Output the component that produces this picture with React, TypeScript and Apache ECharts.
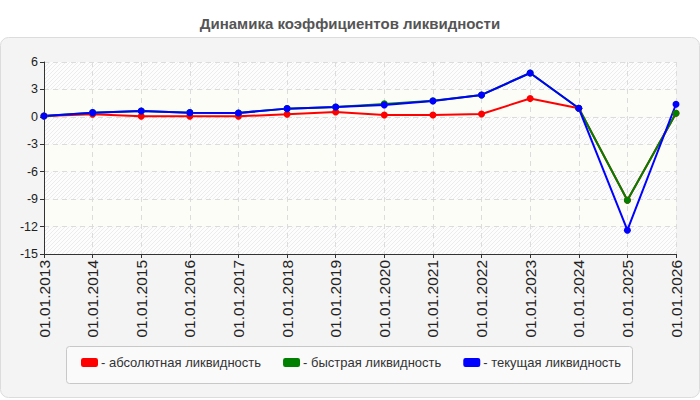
import React, { useEffect, useRef } from "react";
import * as echarts from "echarts";

const categories = [
  "01.01.2013", "01.01.2014", "01.01.2015", "01.01.2016", "01.01.2017",
  "01.01.2018", "01.01.2019", "01.01.2020", "01.01.2021", "01.01.2022",
  "01.01.2023", "01.01.2024", "01.01.2025", "01.01.2026",
];
const absoluteLiquidity = [0.1, 0.28, 0.06, 0.06, 0.06, 0.28, 0.53, 0.2, 0.2, 0.32, 2.0, 0.94, -9.13, 0.39];
const quickLiquidity = [0.1, 0.46, 0.65, 0.46, 0.43, 0.9, 1.08, 1.42, 1.76, 2.4, 4.8, 0.94, -9.13, 0.39];
const currentLiquidity = [0.1, 0.46, 0.65, 0.46, 0.43, 0.9, 1.08, 1.3, 1.74, 2.4, 4.8, 0.94, -12.4, 1.38];
const seriesNames = ["абсолютная ликвидность", "быстрая ликвидность", "текущая ликвидность"];
const seriesColors = ["#ff0000", "#008000", "#0000ff"];

function makeHatch(): any {
  const s = 4;
  const c = document.createElement("canvas");
  c.width = s;
  c.height = s;
  const ctx = c.getContext("2d")!;
  ctx.fillStyle = "#fdfdfd";
  ctx.fillRect(0, 0, s, s);
  ctx.strokeStyle = "#ececec";
  ctx.lineWidth = 1;
  ctx.beginPath();
  ctx.moveTo(0, s);
  ctx.lineTo(s, 0);
  ctx.moveTo(-s / 2, s / 2);
  ctx.lineTo(s / 2, -s / 2);
  ctx.moveTo(s / 2, s * 1.5);
  ctx.lineTo(s * 1.5, s / 2);
  ctx.stroke();
  return { image: c, repeat: "repeat" };
}

export default function App() {
  const ref = useRef<HTMLDivElement>(null);
  useEffect(() => {
    const chart = echarts.init(ref.current!, null, { renderer: "svg" });
    const mk = (name: string, data: number[], color: string) => ({
      name,
      type: "line",
      data,
      symbol: "circle",
      symbolSize: 7,
      lineStyle: { width: 2, color },
      itemStyle: { color },
    });
    const hatch = makeHatch();
    chart.setOption({
      animation: false,
      textStyle: { fontFamily: "Arial, 'Liberation Sans', sans-serif" },
      title: {
        text: "Динамика коэффициентов ликвидности",
        left: "center",
        top: 11,
        textStyle: { fontSize: 15, fontWeight: "bold", color: "#555", fontFamily: "Arial, 'Liberation Sans', sans-serif" },
      },
      graphic: [
        {
          type: "rect",
          shape: { x: 0.5, y: 37.5, width: 699, height: 360, r: 8 },
          style: { fill: "#f4f4f4", stroke: "#dcdcdc", lineWidth: 1 },
          z: -10,
        },
        {
          type: "rect",
          shape: { x: 66.5, y: 346.5, width: 566, height: 37, r: 3 },
          style: { fill: "#fafafa", stroke: "#c8c8c8", lineWidth: 1 },
          z: -5,
        },
      ],
      legend: {
        left: 76,
        top: 351,
        itemWidth: 17,
        itemHeight: 9,
        itemGap: 22,
        icon: "roundRect",
        formatter: (n: string) => "- " + n,
        textStyle: { fontSize: 13, color: "#333", padding: [0, 0, 0, -2] },
        data: seriesNames,
      },
      grid: { left: 44, right: 24, top: 62, bottom: 146 },
      xAxis: {
        type: "category",
        data: categories,
        boundaryGap: false,
        axisLine: { onZero: false, lineStyle: { color: "#333" } },
        axisTick: { alignWithLabel: true, length: 4, lineStyle: { color: "#333" } },
        axisLabel: { rotate: 90, fontSize: 15.5, color: "#222", margin: 6, interval: 0 },
        splitLine: { show: true, lineStyle: { color: "#dcdcdc", type: [5, 4] } },
      },
      yAxis: {
        type: "value",
        min: -15,
        max: 6,
        interval: 3,
        axisLine: { show: true, lineStyle: { color: "#333" } },
        axisTick: { show: true, length: 4, lineStyle: { color: "#333" } },
        axisLabel: { fontSize: 12.5, color: "#222", margin: 6 },
        splitLine: { show: true, lineStyle: { color: "#dcdcdc", type: [5, 4] } },
        splitArea: { show: true, areaStyle: { color: [hatch, "#fdfdf7"] } },
      },
      series: [
        mk(seriesNames[0], absoluteLiquidity, seriesColors[0]),
        mk(seriesNames[1], quickLiquidity, seriesColors[1]),
        mk(seriesNames[2], currentLiquidity, seriesColors[2]),
      ],
    });
    return () => chart.dispose();
  }, []);
  return <div ref={ref} style={{ width: 700, height: 400, position: "absolute", left: 0, top: 0 }} />;
}
